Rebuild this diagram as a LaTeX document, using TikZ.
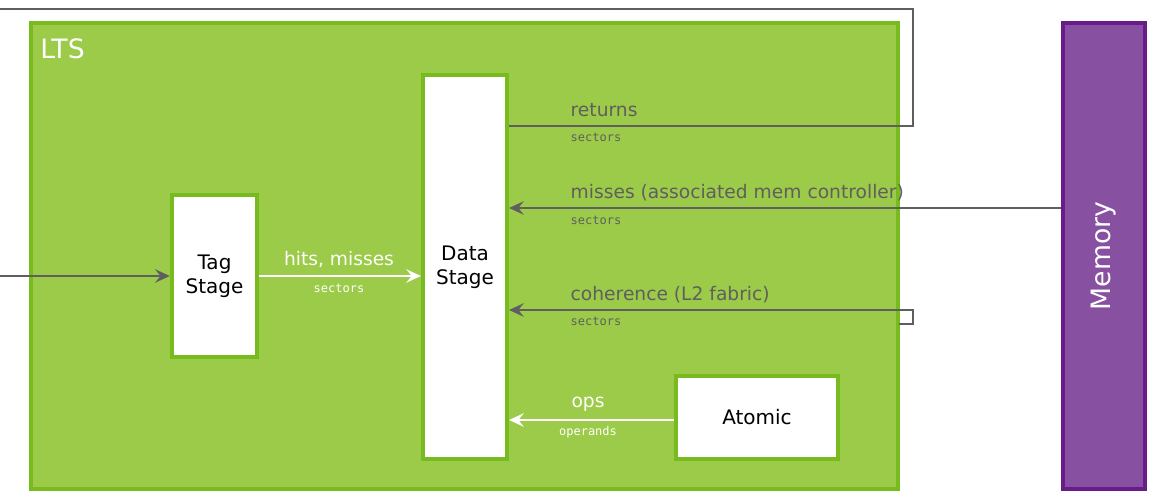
\documentclass[tikz,border=0pt]{standalone}
\usepackage{fontspec}
\setmainfont{DejaVu Sans}
\newfontfamily\monof{DejaVu Sans Mono}
\usetikzlibrary{arrows.meta}
\definecolor{ltsfill}{HTML}{9BCB48}
\definecolor{ltsline}{HTML}{78BB1E}
\definecolor{gline}{HTML}{5F5F5F}
\definecolor{mfill}{HTML}{8750A0}
\definecolor{mline}{HTML}{6A1B8A}
\begin{document}
\begin{tikzpicture}[x=0.75pt,y=-0.75pt,
  box/.style={draw=ltsline,line width=3pt,fill=white,inner sep=0pt},
  conn/.style={draw=gline,line width=2.2pt},
  arr/.style={-{Stealth[length=11pt,width=10pt,inset=4pt]}},
  lbl/.style={anchor=west,font=\fontsize{14}{16}\selectfont,text=gline},
  sub/.style={anchor=west,font=\monof\fontsize{9}{10}\selectfont,text=gline}]
\useasboundingbox (0,0) rectangle (1163,495);
\fill[ltsfill,draw=ltsline,line width=3pt] (31,23) rectangle (898,489);
\node[anchor=north west,text=white,font=\fontsize{20}{22}\selectfont,inner sep=0pt] (lts) at (40,38) {LTS};
\node[box,minimum width=64pt,minimum height=122pt,font=\fontsize{15}{18}\selectfont,align=center] (tag) at (214.5,276) {Tag\\Stage};
\node[box,minimum width=63pt,minimum height=288pt,font=\fontsize{15}{18}\selectfont,align=center] (data) at (465,267) {Data\\Stage};
\node[box,minimum width=121pt,minimum height=62pt,font=\fontsize{15}{18}\selectfont] (atom) at (757,417.5) {Atomic};
\node[draw=mline,fill=mfill,line width=3pt,minimum width=62pt,minimum height=350pt,inner sep=0pt] (mem) at (1104,256) {};
\node[rotate=90,text=white,font=\fontsize{20}{22}\selectfont] (memt) at (1104,256) {Memory};
\coordinate (in) at (0,276);
\draw[conn,arr] (in) -- (tag.west |- in);
\draw[draw=white,line width=2.2pt,arr] (tag.east |- in) -- (data.west |- in);
\node[anchor=south,text=white,font=\fontsize{14}{16}\selectfont] (hl) at (339,272) {hits, misses};
\node[text=white,font=\monof\fontsize{9}{10}\selectfont] (hs) at (339,288) {sectors};
% returns
\coordinate (r1) at (913,126);
\coordinate (r2) at (913,9);
\coordinate (r3) at (0,9);
\draw[conn] (data.east |- r1) -- (r1) -- (r2) -- (r3);
\node[lbl] (rl) at (566,110) {returns};
\node[sub] (rs) at (566,137) {sectors};
% misses
\coordinate (m) at (0,208);
\draw[conn,arr,{Stealth[length=11pt,width=10pt,inset=4pt]}-] (data.east |- m) -- (mem.west |- m);
\node[lbl] (ml) at (566,193) {misses (associated mem controller)};
\node[sub] (ms) at (566,220) {sectors};
% coherence
\coordinate (c1) at (913,310);
\coordinate (c2) at (913,324);
\coordinate (c3) at (899,324);
\draw[conn,{Stealth[length=11pt,width=10pt,inset=4pt]}-] (data.east |- c1) -- (c1) -- (c2) -- (c3);
\node[lbl] (cl) at (566,295) {coherence (L2 fabric)};
\node[sub] (cs) at (566,321) {sectors};
% ops
\coordinate (o) at (0,420);
\draw[draw=white,line width=2.2pt,arr,{Stealth[length=11pt,width=10pt,inset=4pt]}-] (data.east |- o) -- (atom.west |- o);
\node[anchor=south,text=white,font=\fontsize{14}{16}\selectfont] (ol) at (588,416) {ops};
\node[text=white,font=\monof\fontsize{9}{10}\selectfont] (os) at (588,432) {operands};
\end{tikzpicture}
\end{document}
